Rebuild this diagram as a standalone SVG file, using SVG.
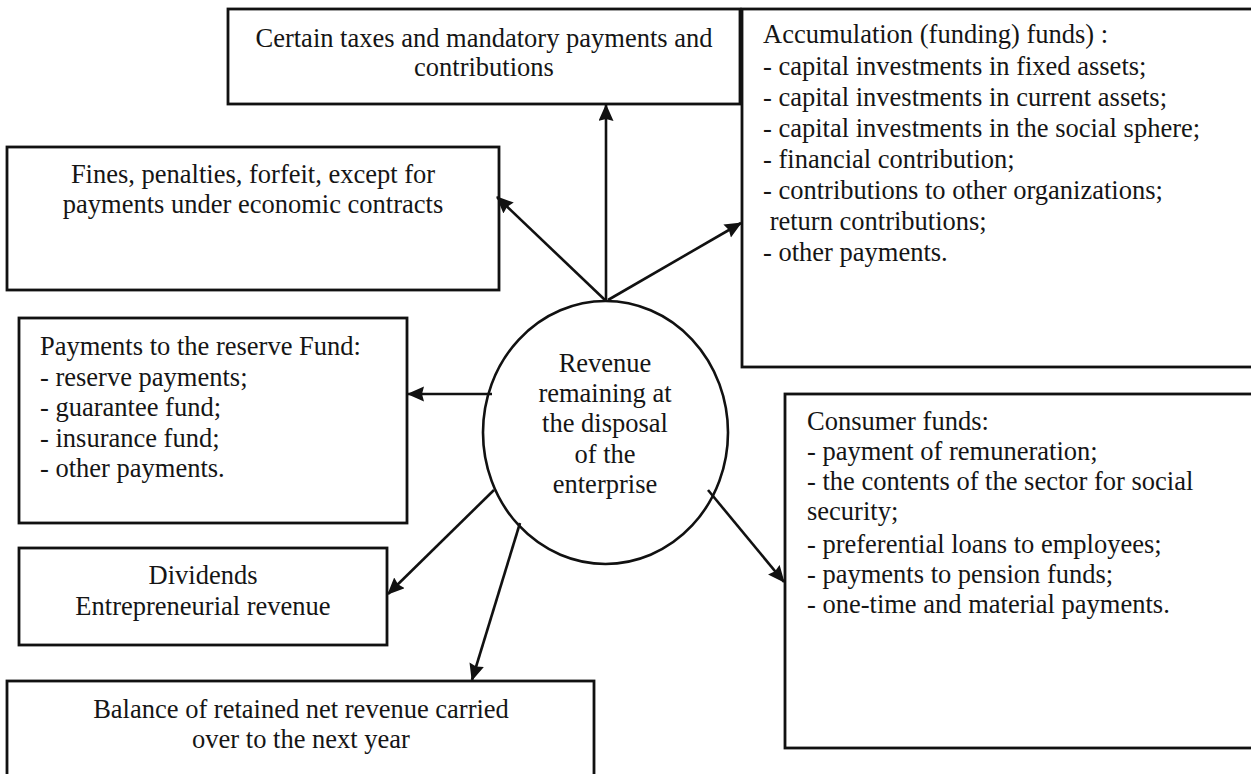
<svg xmlns="http://www.w3.org/2000/svg" width="1251" height="774" viewBox="0 0 1251 774">
<style>
.box{fill:#fff;stroke:#111;stroke-width:2.8}
.t{font-family:"Liberation Serif","Times New Roman",serif;font-size:26.5px;fill:#151515}
.c{text-anchor:middle}
.con{stroke:#111;stroke-width:2.6;fill:none;marker-end:url(#ah)}
</style>
<defs>
<marker id="ah" markerUnits="userSpaceOnUse" markerWidth="18" markerHeight="16" refX="16" refY="7.5" orient="auto">
<path d="M0,0 L17,7.5 L0,15 L2,7.5 Z" fill="#111"/>
</marker>
</defs>
<rect width="1251" height="774" fill="#fff"/>
<g id="taxes">
<rect class="box" x="228" y="9" width="512" height="95"/>
<text class="t c" x="484" y="47">Certain taxes and mandatory payments and</text>
<text class="t c" x="484" y="76">contributions</text>
</g>
<g id="accumulation">
<rect class="box" x="742" y="9" width="520" height="358"/>
<text class="t" x="763" y="43">Accumulation (funding) funds) :</text>
<text class="t" x="763" y="75">- capital investments in fixed assets;</text>
<text class="t" x="763" y="106">- capital investments in current assets;</text>
<text class="t" x="763" y="137">- capital investments in the social sphere;</text>
<text class="t" x="763" y="168">- financial contribution;</text>
<text class="t" x="763" y="199">- contributions to other organizations;</text>
<text class="t" x="763" y="230" xml:space="preserve"> return contributions;</text>
<text class="t" x="763" y="261">- other payments.</text>
</g>
<g id="fines">
<rect class="box" x="7" y="147" width="492" height="143"/>
<text class="t c" x="253" y="183">Fines, penalties, forfeit, except for</text>
<text class="t c" x="253" y="213">payments under economic contracts</text>
</g>
<g id="reserve">
<rect class="box" x="19" y="318" width="388" height="205"/>
<text class="t" x="40" y="355">Payments to the reserve Fund:</text>
<text class="t" x="40" y="386">- reserve payments;</text>
<text class="t" x="40" y="416">- guarantee fund;</text>
<text class="t" x="40" y="447">- insurance fund;</text>
<text class="t" x="40" y="477">- other payments.</text>
</g>
<g id="revenue">
<ellipse cx="605.5" cy="432.5" rx="122.5" ry="131.5" fill="#fff" stroke="#111" stroke-width="2.6"/>
<text class="t c" x="605" y="372">Revenue</text>
<text class="t c" x="605" y="402">remaining at</text>
<text class="t c" x="605" y="432">the disposal</text>
<text class="t c" x="605" y="463">of the</text>
<text class="t c" x="605" y="493">enterprise</text>
</g>
<g id="consumer">
<rect class="box" x="785" y="394" width="480" height="354"/>
<text class="t" x="807" y="430">Consumer funds:</text>
<text class="t" x="807" y="460">- payment of remuneration;</text>
<text class="t" x="807" y="490">- the contents of the sector for social</text>
<text class="t" x="807" y="520">security;</text>
<text class="t" x="807" y="553">- preferential loans to employees;</text>
<text class="t" x="807" y="583">- payments to pension funds;</text>
<text class="t" x="807" y="613">- one-time and material payments.</text>
</g>
<g id="dividends">
<rect class="box" x="19" y="548" width="368" height="97"/>
<text class="t c" x="203" y="584">Dividends</text>
<text class="t c" x="203" y="615">Entrepreneurial revenue</text>
</g>
<g id="balance">
<rect class="box" x="7" y="681" width="587" height="120"/>
<text class="t c" x="301" y="718">Balance of retained net revenue carried</text>
<text class="t c" x="301" y="748">over to the next year</text>
</g>
<g id="connectors">
<line class="con" x1="606" y1="301" x2="606" y2="105"/>
<line class="con" x1="605" y1="300" x2="497" y2="197"/>
<line class="con" x1="608" y1="300" x2="741" y2="223"/>
<line class="con" x1="492" y1="394" x2="408" y2="394"/>
<line class="con" x1="494" y1="490" x2="388" y2="594"/>
<line class="con" x1="520" y1="523" x2="472" y2="680"/>
<line class="con" x1="708" y1="490" x2="784" y2="582"/>
</g>
</svg>
